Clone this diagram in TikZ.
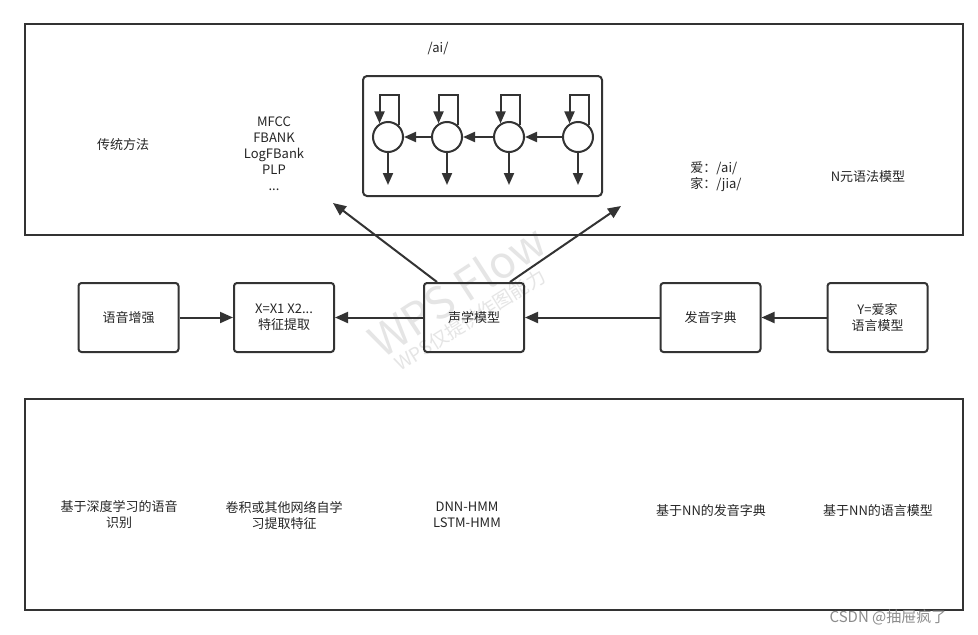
\documentclass[tikz,border=0pt]{standalone}
\usepackage{fontspec}
\setmainfont{Noto Sans CJK SC}
\usetikzlibrary{arrows.meta}
\definecolor{ink}{HTML}{333333}
\definecolor{txt}{HTML}{262626}
\begin{document}
\begin{tikzpicture}[x=1pt,y=-1pt,
  every node/.style={font=\fontsize{13}{16}\selectfont, text=txt, inner sep=0pt, align=center},
  frame/.style={draw=ink, line width=2pt, minimum width=938pt, minimum height=211pt},
  stagebox/.style={draw=ink, line width=2pt, rounded corners=3pt, minimum width=100pt, minimum height=69pt},
  state/.style={circle, draw=ink, line width=2pt, minimum size=30pt},
  arr/.style={draw=ink, line width=2pt, -{Triangle[length=13pt,width=11pt]}},
  sarr/.style={draw=ink, line width=2pt, -{Triangle[length=12pt,width=10pt]}},
  wmark/.style={text=black!10}
]
\useasboundingbox (0,0) rectangle (978,635);
\fill[white] (0,0) rectangle (978,635);

% watermarks
\node[wmark, rotate=33, font=\fontsize{44}{44}\selectfont] (wm1) at (457,290) {WPS Flow};
\node[wmark, rotate=32, font=\fontsize{19}{19}\selectfont] (wm2) at (470,320) {WPS仅提供作图能力};

% frames
\node[frame] (top) at (494,129.5) {};
\node[frame] (bot) at (494,504.5) {};

% HMM
\node (ai) at (438,48) {/ai/};
\node[draw=ink, line width=2pt, rounded corners=4pt, minimum width=239pt, minimum height=120pt] (hmm) at (482.5,136) {};
\node[state] (c1) at (388,137) {};
\node[state] (c2) at (447,137) {};
\node[state] (c3) at (509,137) {};
\node[state] (c4) at (578,137) {};
\draw[sarr] (c4) -- (c3);
\draw[sarr] (c3) -- (c2);
\draw[sarr] (c2) -- (c1);
\foreach \c in {c1,c2,c3,c4}{
  \draw[sarr] (\c.48) -- ++(0,-30) -| (\c.122);
  \draw[sarr] (\c.south) -- ++(0,32);
}

% top texts
\node (trad) at (123,145) {传统方法};
\node (feats) at (274,154) {MFCC\\FBANK\\LogFBank\\PLP\\...};
\node[align=left] (pron) at (716,177) {爱：/ai/\\家：/jia/};
\node (ngram) at (868,177) {N元语法模型};

% stages
\node[stagebox] (enh) at (128.5,317.5) {语音增强};
\node[stagebox] (feat) at (284,317.5) {X=X1 X2...\\特征提取};
\node[stagebox] (ac) at (474,317.5) {声学模型};
\node[stagebox] (dict) at (710.5,317.5) {发音字典};
\node[stagebox] (lm) at (877.5,317.5) {Y=爱家\\语言模型};
\draw[arr] (enh) -- (feat);
\draw[arr] (ac) -- (feat);
\draw[arr] (dict) -- (ac);
\draw[arr] (lm) -- (dict);
\coordinate (tl) at (333,203);
\coordinate (tr) at (621,206);
\draw[arr] ([xshift=-37pt]ac.north) -- (tl);
\draw[arr] ([xshift=36pt]ac.north) -- (tr);

% bottom texts
\node (b1) at (119,515) {基于深度学习的语音\\识别};
\node (b2) at (284,515) {卷积或其他网络自学\\习提取特征};
\node (b3) at (467,515) {DNN-HMM\\LSTM-HMM};
\node (b4) at (711,511) {基于NN的发音字典};
\node (b5) at (878,511) {基于NN的语言模型};

% csdn watermark
\node[text=black!45, font=\fontsize{15}{15}\selectfont] (csdn) at (888,617) {CSDN @抽屉疯了};
\end{tikzpicture}
\end{document}
